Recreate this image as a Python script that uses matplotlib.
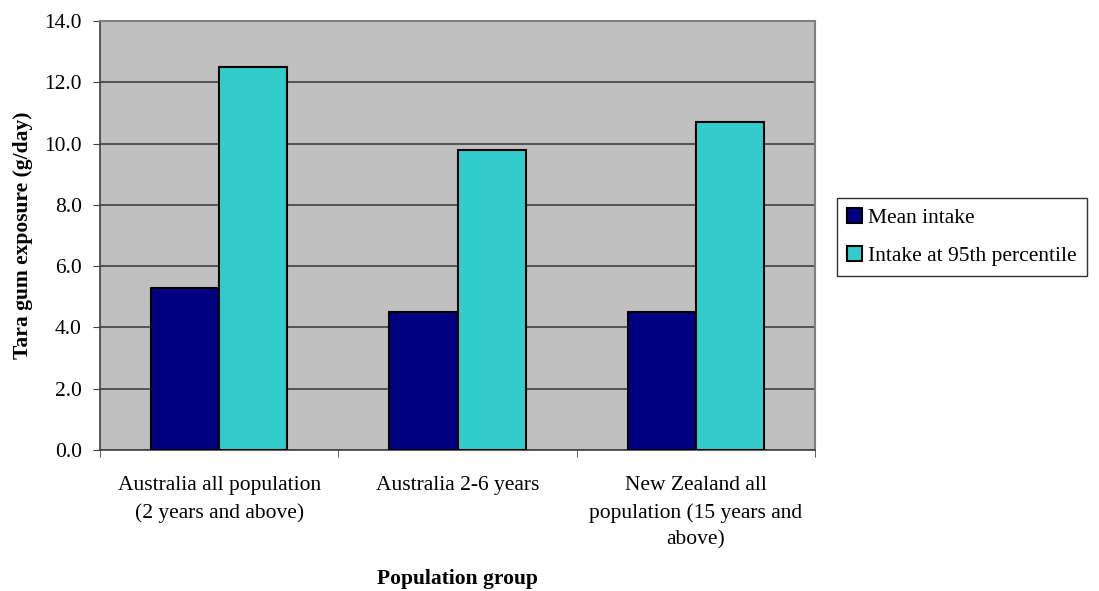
import matplotlib.pyplot as plt
import numpy as np

plt.rcParams['font.family'] = ['Liberation Serif', 'DejaVu Serif']

groups = ['Australia all population\n(2 years and above)',
          'Australia 2-6 years',
          'New Zealand all\npopulation (15 years and\nabove)']
mean_intake = [5.3, 4.5, 4.5]
p95_intake = [12.5, 9.8, 10.7]
series_names = ['Mean intake', 'Intake at 95th percentile']

DPI = 100
FS = 15.5
fig = plt.figure(figsize=(1099 / DPI, 591 / DPI), dpi=DPI)
ax = fig.add_axes([100 / 1099, 141 / 591, 715 / 1099, 429 / 591])

x = np.arange(len(groups))
width = 1 / 3.5
edge = dict(edgecolor='black', linewidth=1.5, zorder=3)
b1 = ax.bar(x - width / 2, mean_intake, width, color='#000080', **edge)
b2 = ax.bar(x + width / 2, p95_intake, width, color='#33CCCC', **edge)

ax.set_facecolor('#C0C0C0')
ax.set_xlim(-0.5, 2.5)
ax.set_ylim(0, 14)
ax.set_yticks(np.arange(0, 14.1, 2))
ax.set_yticklabels(['%.1f' % v for v in np.arange(0, 14.1, 2)])
ax.yaxis.grid(True, color='#404040', linewidth=1.2, zorder=1)
ax.set_axisbelow(True)

# group labels in the middle, ticks on the category boundaries
ax.set_xticks(x)
ax.set_xticklabels(groups, fontsize=FS, linespacing=1.52, va='top')
ax.tick_params(axis='x', length=0, pad=19)
ax.set_xticks(np.arange(-0.5, 2.6, 1), minor=True)
ax.tick_params(axis='x', which='minor', length=5, direction='out', color='#404040')
ax.tick_params(axis='y', length=5, direction='out', labelsize=FS, pad=8, color='#404040')

for side in ['left', 'bottom']:
    ax.spines[side].set_color('#404040')
    ax.spines[side].set_linewidth(1.2)
for side in ['top', 'right']:
    ax.spines[side].set_color('#808080')
    ax.spines[side].set_linewidth(1.5)

ax.set_ylabel('Tara gum exposure (g/day)', fontsize=FS, fontweight='bold', labelpad=8)
# x title sits right at the bottom edge of the picture
fig.text(457 / 1099, 2 / 591, 'Population group', fontsize=FS, fontweight='bold',
         ha='center', va='bottom')

leg = fig.legend([b1, b2], series_names, loc='upper left',
                 bbox_to_anchor=(837 / 1099, 1 - 198 / 591),
                 fontsize=FS, frameon=True, fancybox=False, edgecolor='black',
                 handlelength=0.7, handleheight=0.7, handletextpad=0.3,
                 borderpad=0.45, labelspacing=0.85, borderaxespad=0)
leg.get_frame().set_linewidth(1.0)

fig.savefig('out.png', dpi=DPI)
